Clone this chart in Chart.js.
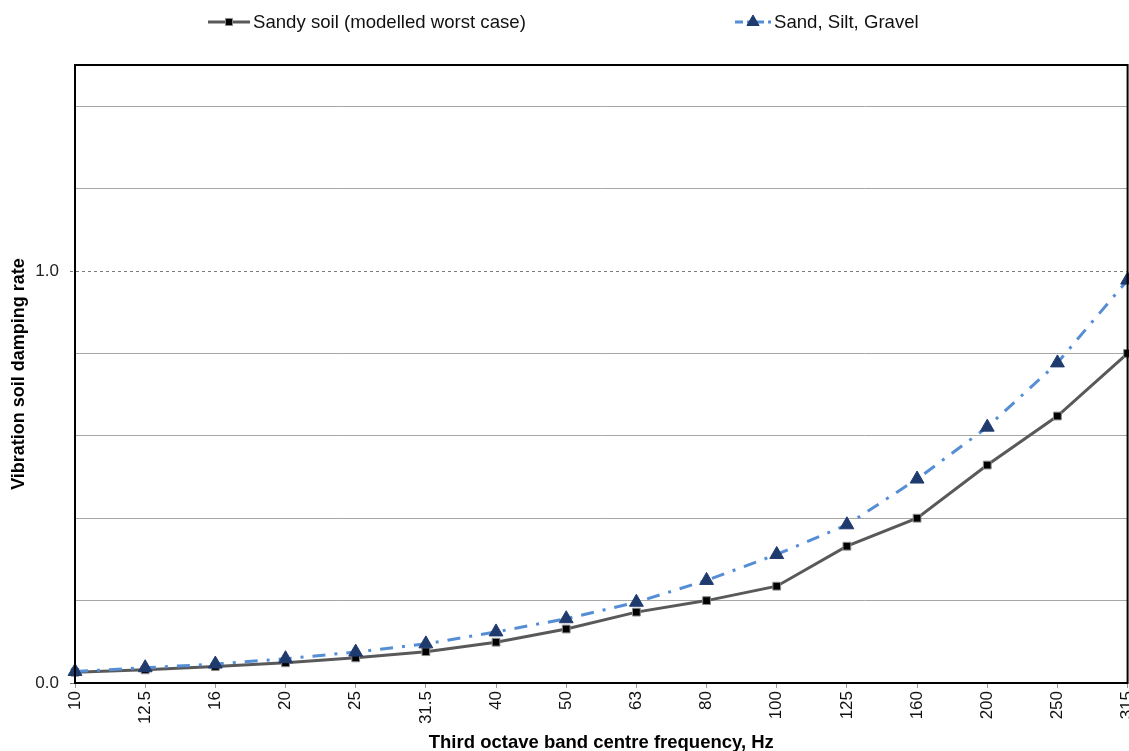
<!DOCTYPE html>
<html>
<head>
<meta charset="utf-8">
<script src="https://cdn.jsdelivr.net/npm/chart.js@4/dist/chart.umd.min.js"></script>
<style>
  html, body { margin: 0; padding: 0; background: #fff; overflow: hidden; }
  #wrap { position: absolute; left: 0; top: 0; width: 1151px; height: 754px; }
</style>
</head>
<body>
<div id="wrap"><canvas id="chart"></canvas></div>
<script>
// Third octave band centre frequencies (Hz)
const bands = ['10', '12.5', '16', '20', '25', '31.5', '40', '50', '63', '80', '100', '125', '160', '200', '250', '315'];

// Soil damping rate per band
const sandySoil = [0.026, 0.032, 0.040, 0.049, 0.061, 0.076, 0.099, 0.131, 0.172, 0.200, 0.235, 0.332, 0.400, 0.529, 0.648, 0.800];
const sandSiltGravel = [0.028, 0.037, 0.046, 0.059, 0.075, 0.095, 0.124, 0.156, 0.196, 0.249, 0.312, 0.384, 0.495, 0.621, 0.777, 0.978];

// Value axis: gridline positions and the ones that carry a label
const yGridValues = [0, 0.2, 0.4, 0.6, 0.8, 1.0, 1.2, 1.4];
const yTickLabels = { 0: '0.0', 1: '1.0' };

const FONT = '"Liberation Sans", Arial, sans-serif';

const isMajor = ctx => ctx.tick && (ctx.tick.value === 0 || ctx.tick.value === 1);

// Black frame around the plotting area
const frame = {
  id: 'frame',
  afterDatasetsDraw(chart) {
    const { ctx, chartArea: a } = chart;
    ctx.save();
    ctx.strokeStyle = '#000';
    ctx.lineWidth = 2;
    ctx.strokeRect(a.left, a.top, a.right - a.left, a.bottom - a.top);
    ctx.restore();
  }
};

function drawMarker(ctx, style, x, y, r, fill, stroke) {
  ctx.save();
  ctx.fillStyle = fill;
  ctx.strokeStyle = stroke;
  ctx.lineWidth = 1;
  ctx.setLineDash([]);
  ctx.beginPath();
  if (style === 'triangle') {
    ctx.moveTo(x, y - r);
    ctx.lineTo(x + r * 0.866, y + r * 0.5);
    ctx.lineTo(x - r * 0.866, y + r * 0.5);
    ctx.closePath();
  } else {
    const s = r * Math.SQRT1_2;
    ctx.rect(x - s, y - s, 2 * s, 2 * s);
  }
  ctx.fill();
  ctx.stroke();
  ctx.restore();
}

// Legend along the top: line sample with marker, then the series name
const topLegend = {
  id: 'topLegend',
  afterDraw(chart) {
    const { ctx } = chart;
    const slots = [{ x: 208, w: 42 }, { x: 735, w: 36 }];
    const y = 22;
    chart.data.datasets.forEach((ds, i) => {
      const s = slots[i];
      ctx.save();
      ctx.strokeStyle = ds.borderColor;
      ctx.lineWidth = ds.borderWidth;
      ctx.setLineDash(ds.legendDash || []);
      ctx.beginPath();
      ctx.moveTo(s.x, y);
      ctx.lineTo(s.x + s.w, y);
      ctx.stroke();
      ctx.restore();
      drawMarker(ctx, ds.pointStyle, s.x + s.w / 2, y, ds.legendRadius,
                 ds.pointBackgroundColor, ds.pointBorderColor);
      ctx.save();
      ctx.fillStyle = '#111';
      ctx.font = '18.6px ' + FONT;
      ctx.textBaseline = 'middle';
      ctx.fillText(ds.label, s.x + s.w + 3, y + 1);
      ctx.restore();
    });
  }
};

new Chart(document.getElementById('chart'), {
  type: 'line',
  data: {
    labels: bands,
    datasets: [
      {
        label: 'Sandy soil (modelled worst case)',
        data: sandySoil,
        borderColor: '#595959',
        borderWidth: 3,
        pointStyle: 'rect',
        pointRadius: 5.5,
        pointBackgroundColor: '#000',
        pointBorderColor: '#8c8c8c',
        pointBorderWidth: 1,
        legendRadius: 5,
        tension: 0,
        clip: false,
        order: 2
      },
      {
        label: 'Sand, Silt, Gravel',
        data: sandSiltGravel,
        borderColor: '#558ed5',
        borderWidth: 3,
        borderDash: [13, 9, 3, 9],
        legendDash: [8, 4, 3, 6],
        pointStyle: 'triangle',
        pointRadius: 8,
        pointBackgroundColor: '#1f3b6e',
        pointBorderColor: '#1f3b6e',
        pointBorderWidth: 1,
        legendRadius: 7,
        tension: 0,
        clip: false,
        order: 1
      }
    ]
  },
  options: {
    responsive: true,
    maintainAspectRatio: false,
    animation: false,
    layout: { padding: { top: 65, left: 0, right: 13, bottom: 0 } },
    plugins: {
      legend: { display: false },
      tooltip: { enabled: false }
    },
    scales: {
      x: {
        type: 'category',
        offset: false,
        afterFit: s => { s.height = 71; },
        grid: {
          drawOnChartArea: false,
          drawTicks: true,
          tickLength: 5,
          tickColor: '#9a9a9a'
        },
        border: { display: true, color: '#000', width: 2 },
        ticks: {
          minRotation: 90,
          maxRotation: 90,
          autoSkip: false,
          padding: 3,
          color: '#111',
          font: { family: FONT, size: 17 }
        },
        title: {
          display: true,
          text: 'Third octave band centre frequency, Hz',
          color: '#000',
          font: { family: FONT, size: 18.5, weight: 'bold' },
          padding: { top: 0, bottom: 0 }
        }
      },
      y: {
        min: 0,
        max: 1.5,
        afterFit: s => { s.width = 75; },
        afterBuildTicks: s => { s.ticks = yGridValues.map(v => ({ value: v })); },
        grid: {
          color: ctx => ctx.tick && ctx.tick.value === 1 ? '#7a7a7a' : '#a6a6a6',
          lineWidth: 1,
          tickLength: 5,
          tickColor: ctx => isMajor(ctx) ? '#7a7a7a' : 'rgba(0,0,0,0)',
          tickBorderDash: ctx => ctx.tick && ctx.tick.value === 1 ? [3, 3] : []
        },
        border: {
          display: true,
          color: '#000',
          width: 2,
          dash: ctx => ctx.tick && ctx.tick.value === 1 ? [3, 3] : []
        },
        ticks: {
          padding: 11,
          color: '#222',
          font: { family: FONT, size: 17 },
          callback: v => (v in yTickLabels ? yTickLabels[v] : '')
        },
        title: {
          display: true,
          text: 'Vibration soil damping rate',
          color: '#000',
          font: { family: FONT, size: 18, weight: 'bold' },
          padding: { top: 8, bottom: 0 }
        }
      }
    }
  },
  plugins: [frame, topLegend]
});
</script>
</body>
</html>
